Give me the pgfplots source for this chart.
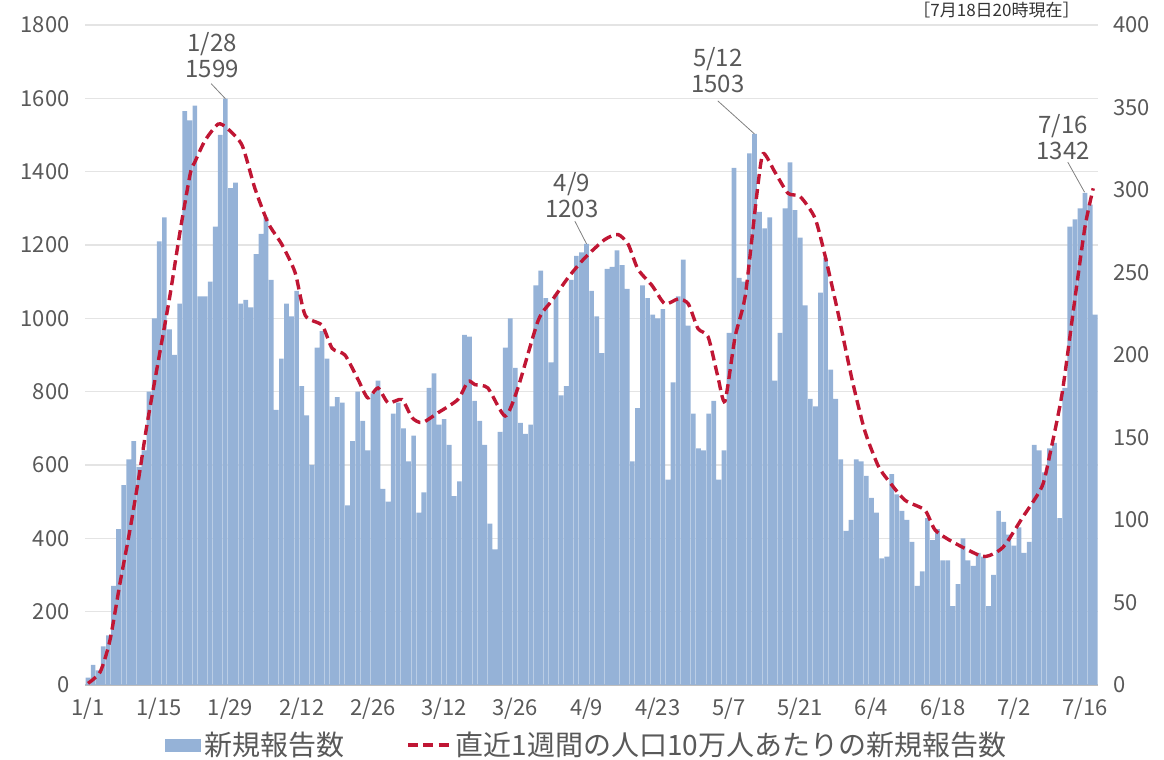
\documentclass[border=0pt]{standalone}
\usepackage{pgfplots}
\pgfplotsset{compat=1.18}
\usepackage{fontspec}
\setmainfont{Noto Sans CJK JP}
\definecolor{barblue}{RGB}{149,178,215}
\definecolor{linered}{RGB}{192,22,52}
\definecolor{txtgray}{RGB}{89,89,89}
\definecolor{gridgray}{RGB}{228,228,228}
\definecolor{axgray}{RGB}{190,190,190}
\begin{document}
\begin{tikzpicture}
\begin{axis}[
  at={(0pt,0pt)}, anchor=south west,
  width=506.15pt, height=330pt, scale only axis,
  xmin=-0.5, xmax=198.5, ymin=0, ymax=1800,
  axis x line*=bottom, axis y line*=left,
  y axis line style={draw=none},
  x axis line style={draw=axgray, line width=0.8pt},
  major tick length=0pt,
  ymajorgrids, grid style={gridgray, line width=0.6pt},
  ytick={0,200,...,1800},
  xtick={0,14,...,196},
  xticklabels={1/1,1/15,1/29,2/12,2/26,3/12,3/26,4/9,4/23,5/7,5/21,6/4,6/18,7/2,7/16},
  /pgf/number format/assume math mode=true,
  /pgf/number format/1000 sep={},
  tick label style={font=\fontsize{11}{13}\selectfont, text=txtgray},
  yticklabel style={anchor=east, inner sep=0pt, xshift=-7.75pt},
  xticklabel style={anchor=center, inner sep=0pt, yshift=-12pt},
  clip=false,
]
\addplot[ybar, bar width=0.92, fill=barblue, draw=none] coordinates {
(0,20)(1,55)(2,40)(3,105)(4,135)(5,270)(6,425)(7,545)(8,615)(9,665)
(10,595)(11,640)(12,800)(13,1000)(14,1210)(15,1275)(16,970)(17,900)(18,1040)(19,1565)
(20,1540)(21,1580)(22,1060)(23,1060)(24,1100)(25,1250)(26,1500)(27,1599)(28,1355)(29,1370)
(30,1040)(31,1050)(32,1030)(33,1175)(34,1230)(35,1275)(36,1105)(37,750)(38,890)(39,1040)
(40,1005)(41,1075)(42,815)(43,735)(44,600)(45,920)(46,965)(47,890)(48,760)(49,785)
(50,770)(51,490)(52,665)(53,800)(54,720)(55,640)(56,795)(57,830)(58,535)(59,500)
(60,740)(61,770)(62,700)(63,610)(64,680)(65,470)(66,525)(67,810)(68,850)(69,710)
(70,725)(71,655)(72,515)(73,555)(74,955)(75,950)(76,775)(77,720)(78,655)(79,440)
(80,370)(81,690)(82,920)(83,1000)(84,865)(85,715)(86,685)(87,710)(88,1090)(89,1130)
(90,1055)(91,880)(92,1065)(93,790)(94,815)(95,1105)(96,1170)(97,1180)(98,1203)(99,1075)
(100,1005)(101,905)(102,1135)(103,1140)(104,1185)(105,1145)(106,1080)(107,610)(108,755)(109,1090)
(110,1055)(111,1010)(112,1000)(113,1025)(114,560)(115,825)(116,1060)(117,1160)(118,980)(119,740)
(120,645)(121,640)(122,740)(123,775)(124,560)(125,640)(126,960)(127,1410)(128,1110)(129,1100)
(130,1450)(131,1503)(132,1290)(133,1245)(134,1275)(135,830)(136,960)(137,1300)(138,1425)(139,1295)
(140,1220)(141,1035)(142,780)(143,760)(144,1070)(145,1165)(146,860)(147,780)(148,615)(149,420)
(150,450)(151,615)(152,610)(153,570)(154,510)(155,470)(156,345)(157,350)(158,575)(159,520)
(160,475)(161,450)(162,390)(163,270)(164,310)(165,455)(166,395)(167,425)(168,340)(169,340)
(170,215)(171,275)(172,400)(173,340)(174,325)(175,360)(176,350)(177,215)(178,300)(179,475)
(180,445)(181,410)(182,380)(183,430)(184,360)(185,390)(186,655)(187,640)(188,580)(189,645)
(190,660)(191,455)(192,810)(193,1250)(194,1270)(195,1300)(196,1342)(197,1310)(198,1010)
};
\node[align=center, font=\fontsize{12}{13}\selectfont, text=txtgray] at (axis cs:24.4,1718) {1/28\\1599};
\draw[gray, line width=0.4pt] (axis cs:24.2,1640) -- (axis cs:27,1599);
\node[align=center, font=\fontsize{12}{13}\selectfont, text=txtgray] at (axis cs:95.1,1336) {4/9\\1203};
\draw[gray, line width=0.4pt] (axis cs:95.7,1265) -- (axis cs:98,1203);
\node[align=center, font=\fontsize{12}{13}\selectfont, text=txtgray] at (axis cs:123.8,1677) {5/12\\1503};
\draw[gray, line width=0.4pt] (axis cs:123.8,1593) -- (axis cs:131,1503);
\node[align=center, font=\fontsize{12}{13}\selectfont, text=txtgray] at (axis cs:191.7,1494) {7/16\\1342};
\draw[gray, line width=0.4pt] (axis cs:192.6,1426) -- (axis cs:195.9,1344);
\end{axis}
\begin{axis}[
  at={(0pt,0pt)}, anchor=south west,
  width=506.15pt, height=330pt, scale only axis,
  xmin=-0.5, xmax=198.5, ymin=0, ymax=400,
  axis x line=none, axis y line*=right,
  y axis line style={draw=none},
  major tick length=0pt,
  ytick={0,50,...,400},
  /pgf/number format/assume math mode=true,
  tick label style={font=\fontsize{11}{13}\selectfont, text=txtgray},
  yticklabel style={anchor=west, inner sep=0pt, xshift=7.6pt},
  legend style={draw=none, fill=none, at={(0.496,-0.0909)}, anchor=center,
    font=\fontsize{14}{16}\selectfont, text=txtgray, legend columns=2,
    /tikz/every even column/.append style={column sep=29pt},
    cells={anchor=west}, inner sep=0pt},
]
\addlegendimage{legend image code/.code={\fill[barblue] (0pt,-3pt) rectangle (17.5pt,3pt);}}
\addlegendentry{新規報告数}
\addplot[linered, line width=1.7pt, dash pattern=on 5pt off 2.6pt, smooth, tension=0.4,
  legend image code/.code={\draw[linered, line width=1.7pt, dash pattern=on 5pt off 2.6pt] (0pt,0pt) -- (21pt,0pt);}]
coordinates {
(0,1)(2.4,8)(4.3,27)(6.3,62)(8.3,95)(10.2,130)(11.6,158)(14.2,203)(16.1,236)(18.1,275)
(20.1,310)(21,317)(23,330)(25.6,340)(27.5,337)(30.3,327)(32.8,301)(35.4,280)(38.1,267)(40.7,250)
(42.7,224)(46,218)(48,204)(50.5,200)(53.1,185)(55,174)(57,180)(59,171)(61.7,173)(63.7,162)
(65.7,159)(68.8,165)(72.7,173)(74.7,184)(76.1,182)(78.6,180)(82,163)(84.5,180)(88.5,221)(91.2,233)
(94.4,247)(97.7,259)(101.6,270)(104.2,273)(106.2,267)(108.1,252)(110.9,242)(113.4,231)(116,234)(118,231)
(119.9,216)(121.9,211)(123.8,187)(125.2,172)(127.2,211)(129.2,236)(131.5,298)(132.7,322)(135,311)(137.6,298)
(140,296)(142.9,283)(144.9,260)(147.4,226)(150.2,185)(152.7,154)(155.3,133)(157.3,124)(160.6,112)(164.5,106)
(166.5,94)(169.8,87)(175.7,78)(178.3,80)(180.3,85)(183.6,101)(187.5,120)(189.1,140)(191.5,177)(194,234)
(196,278)(197.6,301)
};
\addlegendentry{直近1週間の人口10万人あたりの新規報告数}
\end{axis}
\node[anchor=north east, inner sep=0pt, font=\fontsize{8.5}{10}\selectfont, text=black!80] at (497.25pt,341.5pt) {［7月18日20時現在］};
\pgfresetboundingbox
\path (-42.75pt,-37.5pt) rectangle (539.25pt,342.5pt);
\end{tikzpicture}
\end{document}
